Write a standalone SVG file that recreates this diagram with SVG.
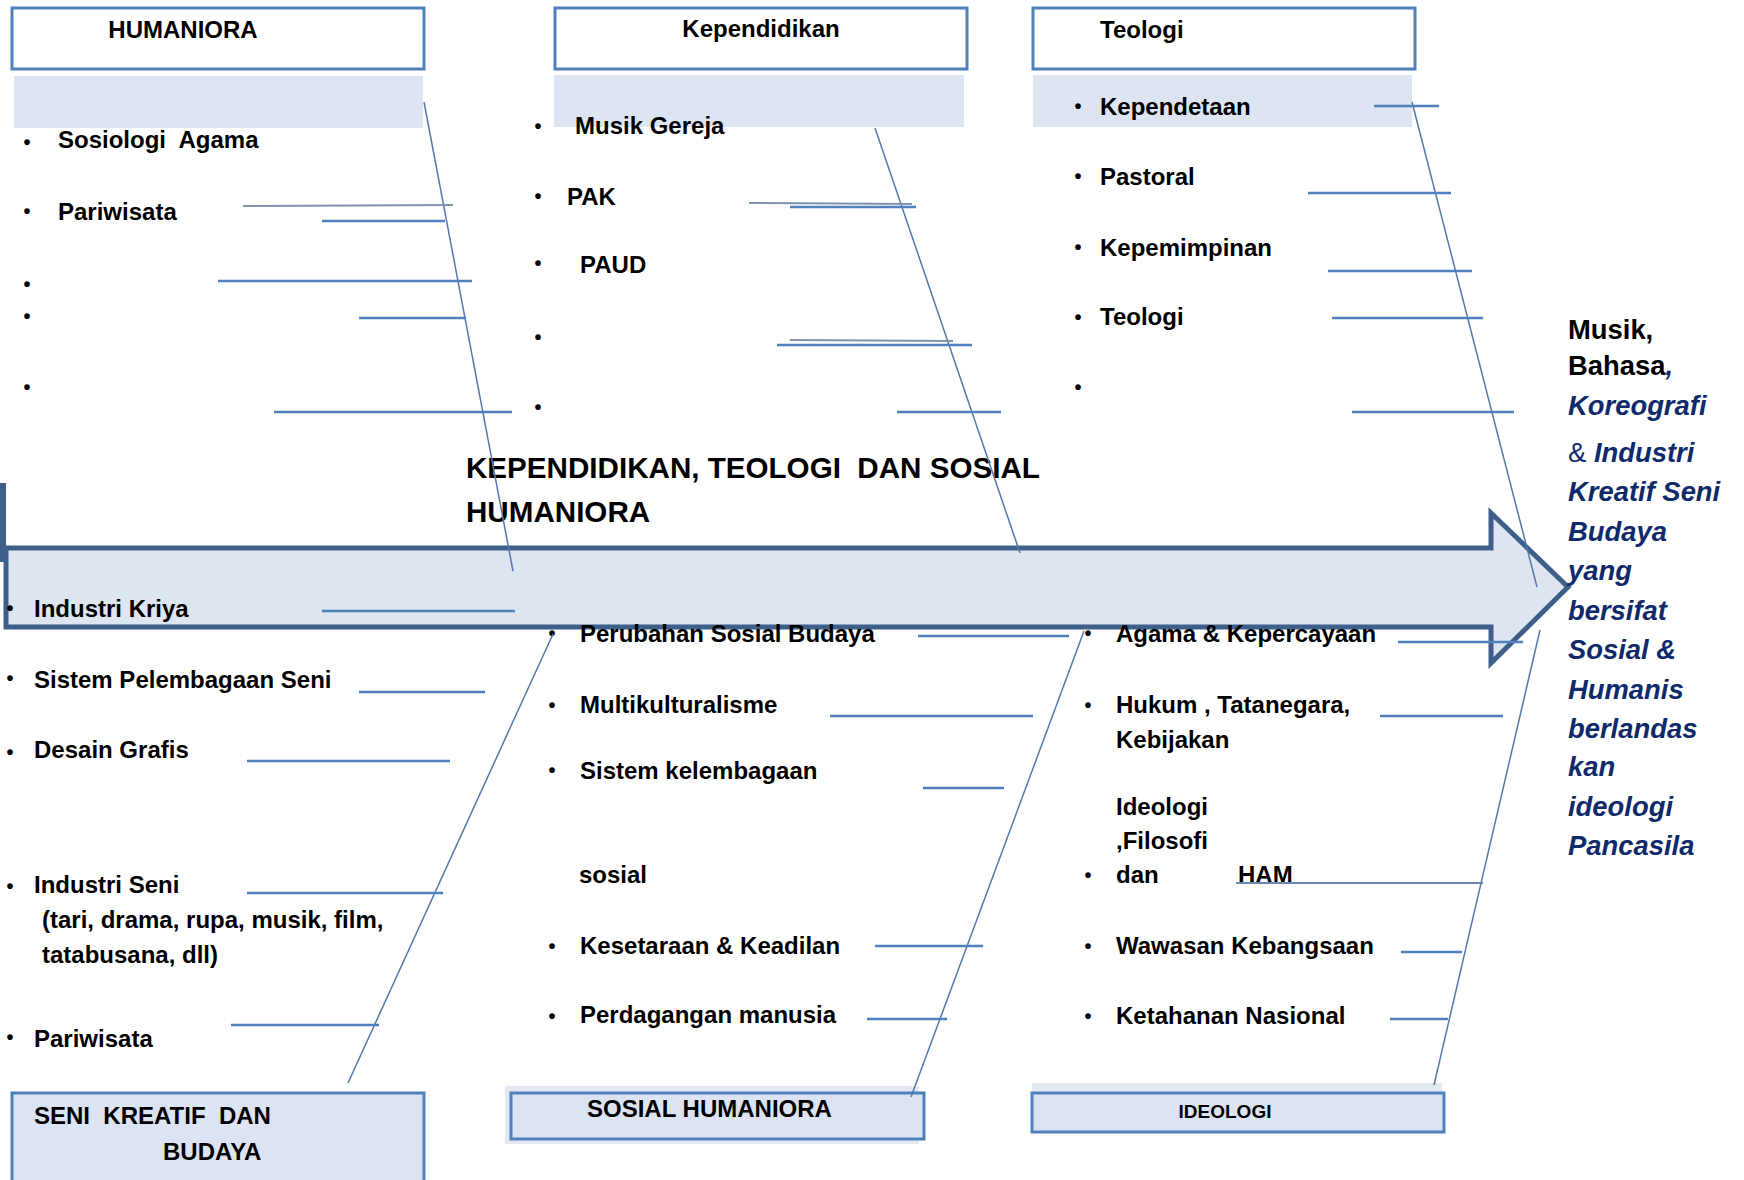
<svg xmlns="http://www.w3.org/2000/svg" width="1744" height="1180" viewBox="0 0 1744 1180">
<style>
.t{font-family:"Liberation Sans",Arial,sans-serif;font-weight:bold;font-size:24px;fill:#000;white-space:pre}
.bl{font-family:"Liberation Sans",Arial,sans-serif;font-weight:bold;font-size:20px;fill:#000;text-anchor:middle}
.ttl{font-family:"Liberation Sans",Arial,sans-serif;font-weight:bold;font-size:29.6px;fill:#000}
.out{font-family:"Liberation Sans",Arial,sans-serif;font-weight:bold;font-size:27.4px;fill:#0f2a6b;font-style:italic}
.blk{fill:#000;font-style:normal}
.reg{font-weight:normal;font-style:normal}
.box{fill:#fff;stroke:#4f81bd;stroke-width:3}
.boxf{fill:#dce3f2;stroke:#4f81bd;stroke-width:3}
.band{fill:#dde4f2}
.shade{fill:#e4e8f0}
.tick{stroke:#4f81bd;stroke-width:2.6;fill:none}
.tickg{stroke:#7f92ad;stroke-width:2;fill:none}
.bone{stroke:#5577aa;stroke-width:1.5;fill:none}
</style>
<rect width="1744" height="1180" fill="#fff"/>

<!-- spine arrow -->
<g id="spine">
<rect x="0" y="483" width="6" height="79" fill="#3e5f8a"/>
<path d="M6,548 L1491,548 L1491,513 L1568,587 L1491,663 L1491,627 L6,627 Z" fill="#dde5f0" stroke="#3e5f8a" stroke-width="5" stroke-linejoin="miter"/>
</g>

<!-- HUMANIORA -->
<g id="humaniora">
<rect class="box" x="12" y="8" width="412" height="61"/>
<text class="t" x="183" y="38" text-anchor="middle">HUMANIORA</text>
<rect class="band" x="14" y="76" width="409" height="52"/>
<text class="bl" x="27" y="149">•</text><text class="t" x="58" y="148">Sosiologi  Agama</text>
<text class="bl" x="27" y="218">•</text><text class="t" x="58" y="220">Pariwisata</text>
<text class="bl" x="27" y="291">•</text>
<text class="bl" x="27" y="323">•</text>
<text class="bl" x="27" y="394">•</text>
</g>

<!-- Kependidikan -->
<g id="kependidikan">
<rect class="box" x="555" y="8" width="412" height="61"/>
<text class="t" x="761" y="37" text-anchor="middle">Kependidikan</text>
<rect class="band" x="554" y="75" width="410" height="52"/>
<text class="bl" x="538" y="133">•</text><text class="t" x="575" y="134">Musik Gereja</text>
<text class="bl" x="538" y="203">•</text><text class="t" x="567" y="205">PAK</text>
<text class="bl" x="538" y="270">•</text><text class="t" x="580" y="273">PAUD</text>
<text class="bl" x="538" y="344">•</text>
<text class="bl" x="538" y="414">•</text>
</g>

<!-- Teologi -->
<g id="teologi">
<rect class="box" x="1033" y="8" width="382" height="61"/>
<text class="t" x="1100" y="38">Teologi</text>
<rect class="band" x="1033" y="75" width="379" height="52"/>
<text class="bl" x="1078" y="113">•</text><text class="t" x="1100" y="115">Kependetaan</text>
<text class="bl" x="1078" y="183">•</text><text class="t" x="1100" y="185">Pastoral</text>
<text class="bl" x="1078" y="254">•</text><text class="t" x="1100" y="256">Kepemimpinan</text>
<text class="bl" x="1078" y="324">•</text><text class="t" x="1100" y="325">Teologi</text>
<text class="bl" x="1078" y="394">•</text>
</g>

<!-- Title -->
<g id="title">
<text class="ttl" x="466" y="478" style="white-space:pre">KEPENDIDIKAN, TEOLOGI  DAN SOSIAL</text>
<text class="ttl" x="466" y="522">HUMANIORA</text>
</g>

<!-- Seni kreatif dan budaya -->
<g id="seni">
<text class="bl" x="10" y="615">•</text><text class="t" x="34" y="617">Industri Kriya</text>
<text class="bl" x="10" y="685">•</text><text class="t" x="34" y="688">Sistem Pelembagaan Seni</text>
<text class="bl" x="10" y="759">•</text><text class="t" x="34" y="758">Desain Grafis</text>
<text class="bl" x="10" y="893">•</text><text class="t" x="34" y="893">Industri Seni</text>
<text class="t" x="42" y="928">(tari, drama, rupa, musik, film,</text>
<text class="t" x="42" y="963">tatabusana, dll)</text>
<text class="bl" x="10" y="1044">•</text><text class="t" x="34" y="1047">Pariwisata</text>
<rect class="boxf" x="12" y="1093" width="412" height="110"/>
<text class="t" x="34" y="1124">SENI  KREATIF  DAN</text>
<text class="t" x="163" y="1160">BUDAYA</text>
</g>

<!-- Sosial humaniora -->
<g id="sosial">
<text class="bl" x="552" y="640">•</text><text class="t" x="580" y="642">Perubahan Sosial Budaya</text>
<text class="bl" x="552" y="712">•</text><text class="t" x="580" y="713">Multikulturalisme</text>
<text class="bl" x="552" y="777">•</text><text class="t" x="580" y="779">Sistem kelembagaan</text>
<text class="t" x="579" y="883">sosial</text>
<text class="bl" x="552" y="953">•</text><text class="t" x="580" y="954">Kesetaraan &amp; Keadilan</text>
<text class="bl" x="552" y="1023">•</text><text class="t" x="580" y="1023">Perdagangan manusia</text>
<rect class="shade" x="505" y="1086" width="414" height="58"/>
<rect class="boxf" x="511" y="1093" width="413" height="46"/>
<text class="t" x="587" y="1117">SOSIAL HUMANIORA</text>
</g>

<!-- Ideologi -->
<g id="ideologi">
<text class="bl" x="1088" y="640">•</text><text class="t" x="1116" y="642">Agama &amp; Kepercayaan</text>
<text class="bl" x="1088" y="712">•</text><text class="t" x="1116" y="713">Hukum , Tatanegara,</text>
<text class="t" x="1116" y="748">Kebijakan</text>
<text class="t" x="1116" y="815">Ideologi</text>
<text class="t" x="1116" y="849">,Filosofi</text>
<text class="bl" x="1088" y="882">•</text><text class="t" x="1116" y="883">dan</text><text class="t" x="1238" y="883">HAM</text>
<text class="bl" x="1088" y="953">•</text><text class="t" x="1116" y="954">Wawasan Kebangsaan</text>
<text class="bl" x="1088" y="1023">•</text><text class="t" x="1116" y="1024">Ketahanan Nasional</text>
<rect class="shade" x="1032" y="1083" width="410" height="14"/>
<rect class="boxf" x="1032" y="1093" width="412" height="39"/>
<text class="t" x="1225" y="1118" text-anchor="middle" style="font-size:19px">IDEOLOGI</text>
</g>

<!-- Outcome -->
<g id="outcome">
<text class="out" x="1568" y="339"><tspan class="blk">Musik,</tspan></text>
<text class="out" x="1568" y="375"><tspan class="blk">Bahasa</tspan>,</text>
<text class="out" x="1568" y="415">Koreografi</text>
<text class="out" x="1568" y="462"><tspan class="reg">&amp; </tspan>Industri</text>
<text class="out" x="1568" y="501">Kreatif Seni</text>
<text class="out" x="1568" y="541">Budaya</text>
<text class="out" x="1568" y="580">yang</text>
<text class="out" x="1568" y="620">bersifat</text>
<text class="out" x="1568" y="659">Sosial &amp;</text>
<text class="out" x="1568" y="699">Humanis</text>
<text class="out" x="1568" y="738">berlandas</text>
<text class="out" x="1568" y="776">kan</text>
<text class="out" x="1568" y="816">ideologi</text>
<text class="out" x="1568" y="855">Pancasila</text>
</g>

<!-- Connectors -->
<g id="connectors">
<line class="bone" x1="424" y1="102" x2="513" y2="571"/>
<line class="bone" x1="875" y1="128" x2="1020" y2="553"/>
<line class="bone" x1="1412" y1="102" x2="1537" y2="587"/>
<line class="bone" x1="553" y1="634" x2="348" y2="1083"/>
<line class="bone" x1="1084" y1="631" x2="911" y2="1097"/>
<line class="bone" x1="1540" y1="630" x2="1434" y2="1085"/>

<line class="tickg" x1="243" y1="206" x2="453" y2="205"/>
<line class="tick" x1="322" y1="221" x2="445" y2="221"/>
<line class="tick" x1="218" y1="281" x2="472" y2="281"/>
<line class="tick" x1="359" y1="318" x2="466" y2="318"/>
<line class="tick" x1="274" y1="412" x2="512" y2="412"/>

<line class="tickg" x1="749" y1="203" x2="912" y2="204"/>
<line class="tick" x1="790" y1="207" x2="916" y2="207"/>
<line class="tickg" x1="790" y1="340" x2="953" y2="341"/>
<line class="tick" x1="777" y1="345" x2="972" y2="345"/>
<line class="tick" x1="897" y1="412" x2="1001" y2="412"/>

<line class="tick" x1="1374" y1="106" x2="1439" y2="106"/>
<line class="tick" x1="1308" y1="193" x2="1451" y2="193"/>
<line class="tick" x1="1328" y1="271" x2="1472" y2="271"/>
<line class="tick" x1="1332" y1="318" x2="1483" y2="318"/>
<line class="tick" x1="1352" y1="412" x2="1514" y2="412"/>

<line class="tick" x1="322" y1="611" x2="515" y2="611"/>
<line class="tick" x1="359" y1="692" x2="485" y2="692"/>
<line class="tick" x1="247" y1="761" x2="450" y2="761"/>
<line class="tick" x1="247" y1="893" x2="443" y2="893"/>
<line class="tick" x1="231" y1="1025" x2="379" y2="1025"/>

<line class="tick" x1="918" y1="636" x2="1069" y2="636"/>
<line class="tick" x1="830" y1="716" x2="1033" y2="716"/>
<line class="tick" x1="923" y1="788" x2="1004" y2="788"/>
<line class="tick" x1="875" y1="946" x2="983" y2="946"/>
<line class="tick" x1="867" y1="1019" x2="947" y2="1019"/>

<line class="tick" x1="1398" y1="642" x2="1523" y2="642"/>
<line class="tick" x1="1380" y1="716" x2="1503" y2="716"/>
<line class="tickg" x1="1236" y1="883" x2="1483" y2="883" style="stroke:#6a86b4;stroke-width:2.2"/>
<line class="tick" x1="1401" y1="952" x2="1462" y2="952"/>
<line class="tick" x1="1390" y1="1019" x2="1448" y2="1019"/>
</g>
</svg>
